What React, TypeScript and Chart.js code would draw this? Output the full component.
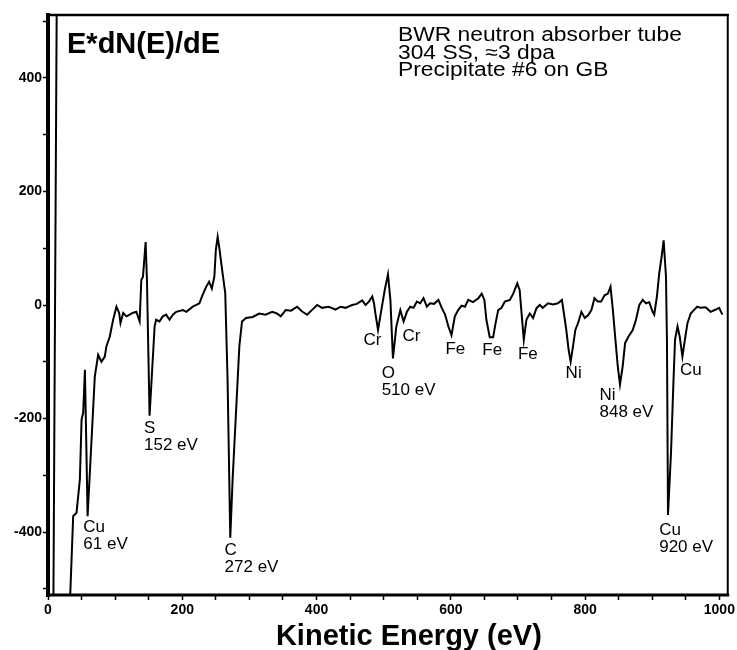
import React, { useEffect, useRef } from 'react';
import { Chart, registerables } from 'chart.js';

Chart.register(...registerables);

// ---- data ----
// Kinetic energy (eV)
const energy: number[] = [
  8, 13, 20,
  32.5, 37.5, 42.5, 47.5, 50, 52.4, 55, 59, 69.7, 74.7, 79.6, 84.6, 87, 92, 97, 102, 106, 108,
  112, 117, 121.7, 126, 131.6, 136.5, 139, 141.5, 145.4, 147.4, 151.3, 158.8, 161, 166, 171,
  176, 181, 186, 191, 201, 206, 215.6, 225.5, 230, 235.5, 240, 244, 247.8, 250, 252.7, 255,
  260, 264, 267.5, 271.5, 275, 280, 285, 289, 295, 305, 314.5, 324, 334, 341, 346.7, 354,
  362, 371, 379, 386, 393, 401, 408, 418, 428, 436, 443, 453, 460, 468, 473, 478, 483,
  485.6, 487.7, 491.6, 496.5, 501.5, 506.4, 510, 513.8, 518.8, 524.8, 529.7, 534.6, 539.6,
  544.5, 549.5, 554.4, 559.3, 564.3, 569, 575, 581.6, 586.5, 591.5, 596.4, 601, 606, 611,
  616, 621, 626, 633, 641, 646, 650, 653, 658, 663, 666.7, 670.6, 675.5, 680.5, 688, 693,
  699, 702.6, 705, 708.7, 712.6, 717.6, 722.5, 727.5, 732.4, 737, 744.8, 752, 759.6, 765.5,
  768.5, 772, 775.5, 778.5, 782, 785.5, 789.5, 794.5, 799.5, 804.5, 809.4, 814, 819, 824,
  829, 834, 837.9, 841.4, 844.8, 848.7, 852, 856, 859.6, 864.5, 871, 875.8, 880.8, 885.8,
  890.7, 895.6, 900.6, 903, 907, 910.5, 914, 917, 920.5, 922, 923.5, 928, 931.7, 934, 937.7,
  941, 945, 948.7, 952.5, 957.4, 962, 967, 972, 979.6, 987, 994.7, 999.6, 1004.5,
];
// E*dN(E)/dE (arbitrary units); null = gap in the trace
const intensity: (number | null)[] = [
  -530, 530, null,
  -530, -372, -366, -307, -202, -190, -114, -372, -126, -88, -100, -91, -73, -56, -26, -3, -14, -32,
  -14, -20, -17, -14, -12, -29, 44, 50, 111, 44, -195, -38, -26, -29, -20,
  -17, -26, -17, -12, -9, -12, -3, 3, 17, 32, 41, 29, 50, 97, 120, 102,
  56, 21, -132, -410, -307, -190, -73, -29, -23, -21, -15, -17, -12, -15, -20, -9,
  -10, -3, -12, -17, -9, 0, -5, -3, -8, -3, -5, 0, 2, 8, 0, 6, 15,
  3, -15, -44, -9, 26, 54, 9, -94, -38, -9, -29, -12, -3,
  -5, 6, 3, 12, -3, 3, 2, 9, -5, -17, -38, -53, -20, -9,
  -1, -3, 9, 5, 12, 20, 9, -26, -57, -57, -32, -9, -5, 6, 9, 20,
  38, 26, -9, -61, -26, -15, -23, -6, 0, -5, 3, 1, 3, 9,
  -15, -44, -79, -100, -73, -44, -32, -12, -23, -18, -9, 12, 6, 6,
  17, 20, 32, -9, -56, -108, -140, -108, -67, -56, -44, -26, 0, 9,
  3, 5, -12, -17, 15, 56, 85, 114, 50, -67, -370, -260, -132, -61, -38,
  -56, -91, -61, -32, -15, -9, -3, -5, -4, -12, -8, -5, -17,
];

const xTickValues: number[] = [0, 50, 100, 150, 200, 250, 300, 350, 400, 450, 500, 550, 600, 650, 700, 750, 800, 850, 900, 950, 1000];
const xLabelValues: number[] = [0, 200, 400, 600, 800, 1000];
const yTickValues: number[] = [-500, -400, -300, -200, -100, 0, 100, 200, 300, 400, 500];
const yLabelValues: number[] = [-400, -200, 0, 200, 400];

// Peak annotations: text lines and their anchor (energy, intensity of first baseline)
const peakText: string[][] = [
  ['Cu', '61 eV'], ['S', '152 eV'], ['C', '272 eV'], ['Cr'], ['O', '510 eV'], ['Cr'],
  ['Fe'], ['Fe'], ['Fe'], ['Ni'], ['Ni', '848 eV'], ['Cu'], ['Cu', '920 eV'],
];
const peakTextE: number[] = [52.6, 143, 263, 470, 497, 528, 592, 647, 700, 771, 821.5, 941.5, 910.4];
const peakTextY: number[] = [-400, -225, -440, -70, -129, -63, -86, -88, -95, -129, -167, -123, -405];

const chartTitle = 'E*dN(E)/dE';
const sampleNotes: string[] = ['BWR neutron absorber tube', '304 SS, \u22483 dpa', 'Precipitate #6 on GB'];
const xAxisTitle = 'Kinetic Energy (eV)';

const FONT = '"Liberation Sans", Arial, Helvetica, sans-serif';

const decorPlugin = {
  id: 'decor',
  afterDraw(chart: any) {
    const { ctx, chartArea: a, scales } = chart;
    const xs = scales.x;
    const ys = scales.y;
    ctx.save();
    ctx.strokeStyle = '#000';
    ctx.lineCap = 'square';
    const seg = (x1: number, y1: number, x2: number, y2: number, w: number) => {
      ctx.lineWidth = w;
      ctx.beginPath();
      ctx.moveTo(x1, y1);
      ctx.lineTo(x2, y2);
      ctx.stroke();
    };
    seg(a.left, a.top, a.right, a.top, 2.5);
    seg(a.right, a.top, a.right, a.bottom, 2);
    seg(a.left, a.bottom, a.right, a.bottom, 3);
    seg(a.left, a.top, a.left, a.bottom, 4);

    ctx.fillStyle = '#000';
    ctx.textBaseline = 'alphabetic';
    ctx.textAlign = 'left';

    // chart title inside plot
    ctx.font = `bold 29px ${FONT}`;
    ctx.fillText(chartTitle, a.left + 19, a.top + 38);

    // sample notes
    ctx.font = `20px ${FONT}`;
    sampleNotes.forEach((t, i) => {
      ctx.save();
      ctx.translate(a.left + 350, a.top + 26 + i * 17.6);
      ctx.scale(1.14, 1);
      ctx.fillText(t, 0, 0);
      ctx.restore();
    });

    // peak labels
    ctx.font = `17px ${FONT}`;
    peakText.forEach((lines, i) => {
      const px = xs.getPixelForValue(peakTextE[i]);
      const py = ys.getPixelForValue(peakTextY[i]);
      lines.forEach((t, j) => ctx.fillText(t, px, py + j * 17));
    });

    // x axis title
    ctx.font = `bold 29px ${FONT}`;
    ctx.textAlign = 'center';
    ctx.fillText(xAxisTitle, (a.left + a.right) / 2 + 21, 645);
    ctx.restore();
  },
};

export default function App() {
  const ref = useRef<HTMLCanvasElement | null>(null);

  useEffect(() => {
    if (!ref.current) return;
    const points = energy.map((e, i) => ({ x: e, y: intensity[i] }));
    const chart = new Chart(ref.current, {
      type: 'line',
      data: {
        datasets: [
          {
            data: points as any,
            borderColor: '#000',
            borderWidth: 2,
            pointRadius: 0,
            tension: 0,
            spanGaps: false,
            fill: false,
          },
        ],
      },
      options: {
        animation: false,
        responsive: false,
        devicePixelRatio: 1,
        layout: { padding: { top: 15, right: 6, left: 0, bottom: 0 } },
        plugins: { legend: { display: false }, tooltip: { enabled: false }, title: { display: false } },
        scales: {
          x: {
            type: 'linear',
            min: 0,
            max: 1012.5,
            afterBuildTicks: (scale: any) => {
              scale.ticks = xTickValues.map((v) => ({ value: v }));
            },
            afterFit: (scale: any) => {
              scale.height = 55;
            },
            border: { display: false },
            grid: { drawOnChartArea: false, drawTicks: true, tickLength: 5, tickWidth: 1.5, tickColor: '#000' },
            ticks: {
              autoSkip: false,
              maxRotation: 0,
              padding: 2,
              color: '#000',
              font: { family: FONT, weight: 'bold', size: 14 },
              callback: (v: any) => (xLabelValues.includes(Number(v)) ? String(v) : ''),
            },
          },
          y: {
            type: 'linear',
            min: -511,
            max: 511,
            afterBuildTicks: (scale: any) => {
              scale.ticks = yTickValues.map((v) => ({ value: v }));
            },
            afterFit: (scale: any) => {
              scale.width = 48;
            },
            border: { display: false },
            grid: { drawOnChartArea: false, drawTicks: true, tickLength: 5, tickWidth: 1.5, tickColor: '#000' },
            ticks: {
              autoSkip: false,
              padding: 1,
              color: '#000',
              font: { family: FONT, weight: 'bold', size: 14 },
              callback: (v: any) => (yLabelValues.includes(Number(v)) ? String(v) : ''),
            },
          },
        },
      },
      plugins: [decorPlugin],
    });
    return () => chart.destroy();
  }, []);

  return (
    <div style={{ position: 'absolute', left: 0, top: 0, width: 737, height: 650, background: '#fff' }}>
      <canvas ref={ref} width={737} height={650} style={{ display: 'block', width: 737, height: 650 }} />
    </div>
  );
}
